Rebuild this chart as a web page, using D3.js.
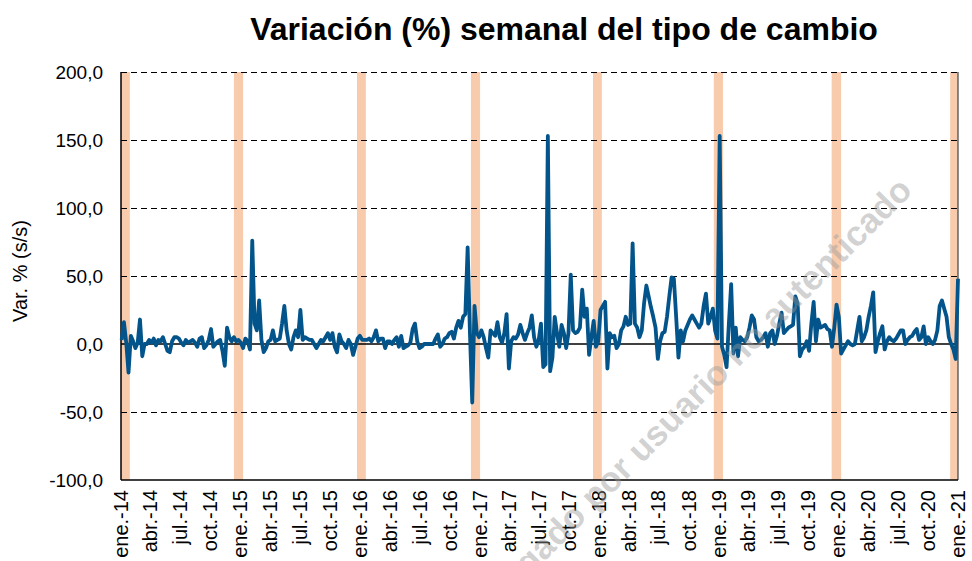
<!DOCTYPE html>
<html>
<head>
<meta charset="utf-8">
<script src="https://cdn.jsdelivr.net/npm/d3@7"></script>
<style>
  body { margin: 0; background: #fff; }
  svg { display: block; font-family: "Liberation Sans", Arial, sans-serif; }
</style>
</head>
<body>
<svg id="chart" width="972" height="561"></svg>
<script>
// weekly series, first week ends 3 ene 2014
const startDate = new Date(2014, 0, 3);
const weeklyVar = [
  3, 16, 1, -21, 6, 2, -3, 1, 18, -9,
  0, 0, 3, 1, 4, -1, 3, 2, 5, 0,
  -5, -6, 2, 5, 5, 4, 1, -1, 3, 1,
  2, 3, 1, -2, 4, 5, -3, -1, 3, 11,
  -2, 0, 2, 3, -5, -16, 12, 5, 2, 5,
  2, 3, 1, -3, 4, 2, -4, 76, 15, 10,
  32, 3, -6, -3, 2, 3, 10, 2, 3, 4,
  15, 28, 10, 0, -4, 5, 10, 5, 25, 3,
  5, 4, 3, 3, 0, -3, 0, 3, 2, 5,
  8, 3, 8, -2, -6, 7, 2, 0, -3, 3,
  0, -8, -2, 4, 6, 3, 3, 3, 4, 2,
  5, 10, 2, 4, 4, -3, 2, 2, 0, 3,
  5, -2, 6, -3, -2, -1, 1, 11, 15, 2,
  -3, -2, 0, 0, 0, 0, 0, 4, 7, -2,
  0, 4, 5, 8, 9, 4, 12, 17, 12, 20,
  22, 71, 8, -43, 28, 8, 5, 10, 5, -3,
  -10, 10, 8, 6, 16, 5, 1, 8, 22, -18,
  2, 5, 4, 7, 14, 8, 3, 8, 12, 21,
  5, -2, 3, 15, -17, -15, 153, -20, -10, 20,
  8, -2, 14, 8, -3, 8, 51, 10, 8, 9,
  12, 40, 20, 26, -8, 5, 17, -2, 2, 25,
  28, 31, -18, 8, 5, 6, -3, 0, 10, 13,
  20, 14, 15, 74, 15, 12, 5, 10, 30, 43,
  35, 27, 20, 12, -11, 2, 8, 9, 20, 35,
  49, 48, 20, -10, 10, 2, 10, 14, 18, 21,
  18, 15, 12, 15, 28, 37, 15, 20, 26, 10,
  4, 153, -2, -8, -17, 15, 44, -7, 12, -9,
  5, 3, 2, 5, 12, 21, 18, 5, 2, 3,
  5, 8, -2, 8, 10, 0, 6, 15, 23, 8,
  10, 12, 13, 14, 35, 30, -9, -4, -2, 2,
  -5, 15, 31, 2, 18, 12, 13, 14, 11, 10,
  -2, 12, 29, 20, -7, -4, -1, 2, 0, -1,
  0, 10, 20, 2, 5, 10, 20, 28, 38, -6,
  2, 8, 13, -4, 2, 5, 3, 2, 4, 7,
  10, 10, 0, 3, 5, 6, 9, 11, 3, 5,
  13, 0, 5, 2, 0, 3, 10, 28, 32, 26,
  20, 5, 0, -4, -11, 48
];

// shaded periods around each January
const bandStarts = ["2014-01-01", "2014-12-12", "2015-12-23", "2016-12-05", "2017-12-13", "2018-12-17", "2019-12-12", "2020-12-08"];
const bandEnds   = ["2014-01-28", "2015-01-09", "2016-01-19", "2017-01-02", "2018-01-09", "2019-01-14", "2020-01-10", "2021-01-01"];

const yTicks = [-100, -50, 0, 50, 100, 150, 200];
const monthNames = ["ene.", "feb.", "mar.", "abr.", "may.", "jun.", "jul.", "ago.", "sep.", "oct.", "nov.", "dic."];

const titleText = "Variación (%) semanal del tipo de cambio";
const yTitle = "Var. % (s/s)";
const watermark = "Descargado por usuario no autenticado";

const svg = d3.select("#chart");
const margin = {left: 121, top: 72, right: 14, bottom: 81};
const W = 972 - margin.left - margin.right;
const H = 561 - margin.top - margin.bottom;

const parse = d3.timeParse("%Y-%m-%d");
const data = weeklyVar.map((v, i) => ({date: d3.timeDay.offset(startDate, 7 * i), value: v}));

const x = d3.scaleTime()
  .domain([new Date(2014, 0, 1), new Date(2021, 0, 1)])
  .range([0, W]);
const y = d3.scaleLinear().domain([-100, 200]).range([H, 0]);

const fmt = v => d3.format(".1f")(v).replace(".", ",").replace("\u2212", "-");

svg.append("text")
  .attr("x", 564).attr("y", 40)
  .attr("text-anchor", "middle")
  .attr("font-size", 32).attr("font-weight", "bold")
  .text(titleText);

const g = svg.append("g").attr("transform", `translate(${margin.left},${margin.top})`);

// bands
g.append("g").selectAll("rect")
  .data(bandStarts.map((s, i) => [parse(s), parse(bandEnds[i])]))
  .enter().append("rect")
  .attr("x", d => x(d[0]))
  .attr("width", d => x(d[1]) - x(d[0]))
  .attr("y", 0).attr("height", H)
  .attr("fill", "#F8CBAD");

// grid
g.append("g").selectAll("line")
  .data(yTicks.filter(t => t != 0 && t != -100))
  .enter().append("line")
  .attr("x1", 0).attr("x2", W)
  .attr("y1", d => y(d)).attr("y2", d => y(d))
  .attr("stroke", "#000").attr("stroke-width", 1)
  .attr("shape-rendering", "crispEdges")
  .attr("stroke-dasharray", "6,4");

g.append("line")
  .attr("x1", 0).attr("x2", W)
  .attr("y1", y(0)).attr("y2", y(0))
  .attr("stroke", "#000").attr("stroke-width", 1.3);

// frame
g.append("line").attr("x1", W).attr("x2", W).attr("y1", 0).attr("y2", H)
  .attr("stroke", "#404040").attr("stroke-width", 1.2);
g.append("line").attr("x1", 0).attr("x2", 0).attr("y1", 0).attr("y2", H)
  .attr("stroke", "#000").attr("stroke-width", 1.5);
g.append("line").attr("x1", 0).attr("x2", W).attr("y1", H).attr("y2", H)
  .attr("stroke", "#000").attr("stroke-width", 1.5);

// y axis labels
g.append("g").selectAll("text")
  .data(yTicks)
  .enter().append("text")
  .attr("x", -18).attr("y", d => y(d))
  .attr("dy", "0.35em")
  .attr("text-anchor", "end")
  .attr("font-size", 19)
  .text(fmt);

svg.append("text")
  .attr("transform", "translate(27,271) rotate(-90)")
  .attr("text-anchor", "middle")
  .attr("font-size", 20)
  .text(yTitle);

// x labels
const quarters = x.ticks(d3.timeMonth.every(3));
g.append("g").selectAll("text")
  .data(quarters)
  .enter().append("text")
  .attr("transform", d => `translate(${x(d)},${H + 10}) rotate(-90)`)
  .attr("dy", "0.35em")
  .attr("text-anchor", "end")
  .attr("font-size", 20)
  .text(d => monthNames[d.getMonth()] + "-" + d3.timeFormat("%y")(d));

// series
const line = d3.line().x(d => x(d.date)).y(d => y(d.value));
g.append("path")
  .datum(data)
  .attr("fill", "none")
  .attr("stroke", "#02548A")
  .attr("stroke-width", 3.8)
  .attr("stroke-linejoin", "round")
  .attr("d", line);

// watermark
svg.append("text")
  .attr("transform", "translate(914,192) rotate(-45)")
  .attr("text-anchor", "end")
  .attr("font-size", 35).attr("font-weight", "bold")
  .attr("fill", "#9a9a9a").attr("fill-opacity", 0.45)
  .text(watermark);
</script>
</body>
</html>
